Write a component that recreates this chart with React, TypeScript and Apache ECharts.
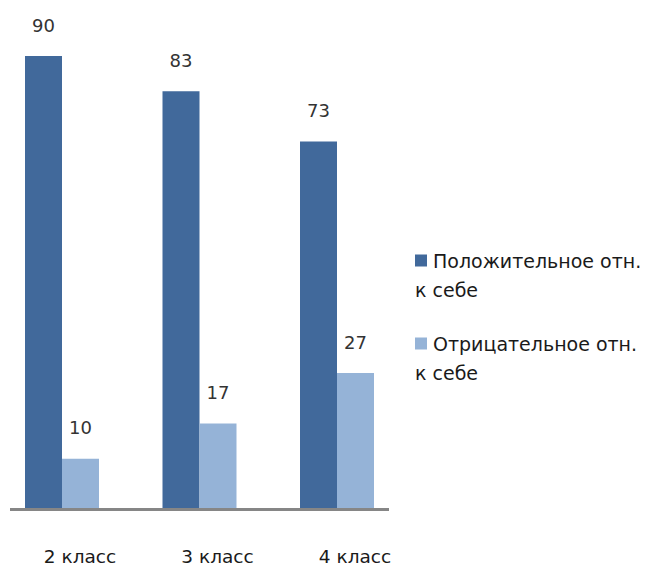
import React, { useEffect, useRef } from "react";
import * as echarts from "echarts";

const categories = ["2 класс", "3 класс", "4 класс"];
const seriesNames = ["Положительное отн. к себе", "Отрицательное отн. к себе"];
const positiveValues = [90, 83, 73];
const negativeValues = [10, 17, 27];
const colors = ["#41699B", "#95B3D7"];

const SHIFT = 7;

export default function App() {
  const ref = useRef<HTMLDivElement>(null);
  useEffect(() => {
    if (!ref.current) return;
    const chart = echarts.init(ref.current, null, { renderer: "svg" });
    const font = "DejaVu Sans";
    const labelStyle = {
      show: true,
      position: "top",
      distance: 22,
      fontFamily: font,
      fontSize: 18,
      color: "#333",
    };
    chart.setOption({
      animation: false,
      backgroundColor: "#ffffff",
      grid: { left: 0.25, width: 412.5, top: 5.7, bottom: 57, containLabel: false },
      xAxis: {
        type: "category",
        data: categories,
        axisLine: { show: false },
        axisTick: { show: false },
        axisLabel: {
          fontFamily: font,
          fontSize: 18.5,
          color: "#1a1a1a",
          margin: 38,
          padding: [0, 0, 0, 36],
        },
      },
      yAxis: {
        type: "value",
        min: 0,
        max: 100,
        show: false,
        splitLine: { show: false },
      },
      legend: {
        orient: "vertical",
        left: 410 + SHIFT,
        top: 251,
        padding: 0,
        icon: "none",
        itemWidth: 0,
        itemHeight: 12,
        itemGap: 35,
        data: seriesNames,
        formatter: (name: string) => {
          const idx = seriesNames.indexOf(name);
          const parts = name.split(" отн. ");
          return `{m${idx}|}{t| ${parts[0]} отн.}\n{t|к себе}`;
        },
        textStyle: {
          rich: {
            m0: { backgroundColor: colors[0], width: 12, height: 12 },
            m1: { backgroundColor: colors[1], width: 12, height: 12 },
            t: { fontFamily: font, fontSize: 19, color: "#1a1a1a", lineHeight: 29 },
          },
        },
      },
      series: [
        {
          name: seriesNames[0],
          type: "bar",
          data: positiveValues,
          barWidth: 37,
          barGap: "0%",
          itemStyle: { color: colors[0] },
          label: labelStyle,
        },
        {
          name: seriesNames[1],
          type: "bar",
          data: negativeValues,
          barWidth: 37,
          barGap: "0%",
          itemStyle: { color: colors[1] },
          label: labelStyle,
        },
      ],
      graphic: [
        {
          type: "line",
          shape: { x1: 10 + SHIFT, y1: 509.5, x2: 389 + SHIFT, y2: 509.5 },
          style: { stroke: "#868686", lineWidth: 3 },
          z: 10,
        },
      ],
    });
    return () => chart.dispose();
  }, []);
  return (
    <div
      ref={ref}
      style={{ width: 645 + SHIFT, height: 566, position: "absolute", left: -SHIFT, top: 0 }}
    />
  );
}
